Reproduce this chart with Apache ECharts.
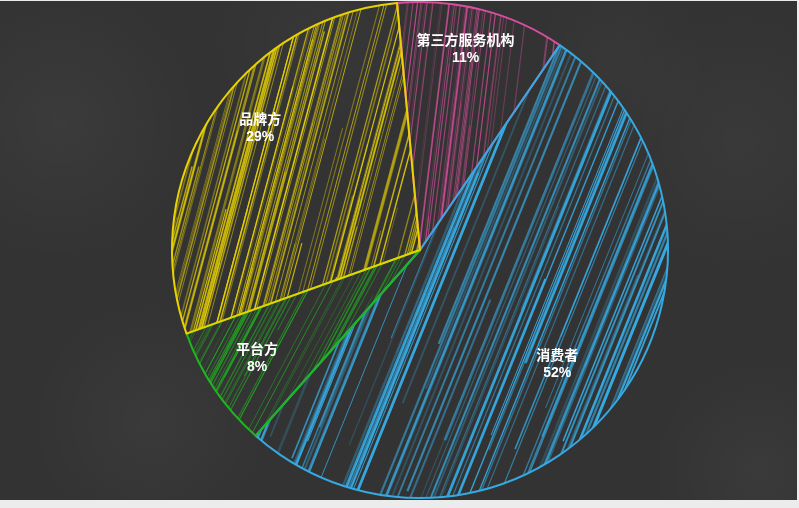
<!DOCTYPE html>
<html>
<head>
<meta charset="utf-8">
<script src="https://cdn.jsdelivr.net/npm/echarts@6/dist/echarts.min.js"></script>
<style>
html,body{margin:0;padding:0;background:#ececec;width:799px;height:508px;overflow:hidden;}
#chart{position:absolute;left:0;top:1px;width:797px;height:499px;}
</style>
</head>
<body>
<div id="chart"></div>
<script>
// ---- data ----
const categories = ['第三方服务机构', '消费者', '平台方', '品牌方'];
const values = [11, 52, 8, 29];
const colors = ['#d94fa0', '#36a9e1', '#1fb51f', '#e8d200'];

// ---- layout constants ----
const CX = 420, CY = 249, R = 248, START = 95.3;
const labelRatio = [0.83, 0.72, 0.79, 0.81];
const labelAngleShift = [-1.7, 1.9, 0.4, 4.8];

// ---- chalk hatch textures (deterministic) ----
function makeRand(seed){ let s = seed; return function(){ s = (s * 1103515245 + 12345) % 2147483648; return s / 2147483648; }; }
function hatch(color, seed, opts){
  const W = 512, H = 512;
  const c = document.createElement('canvas'); c.width = W; c.height = H;
  const g = c.getContext('2d');
  const rnd = makeRand(seed);
  const dx = H / Math.tan(opts.angle * Math.PI / 180);
  g.strokeStyle = color; g.lineCap = 'butt';
  for (let i = 0; i < opts.count; i++) {
    const x0 = rnd() * W;
    const a = opts.aMin + rnd() * (opts.aMax - opts.aMin);
    const w = opts.wMin + rnd() * (opts.wMax - opts.wMin);
    const y1 = rnd() < 0.35 ? rnd() * H * 0.6 : 0;
    const y2 = rnd() < 0.35 ? H - rnd() * H * 0.4 : H;
    g.globalAlpha = a; g.lineWidth = w;
    for (let k = -2; k <= 1; k++) {
      const bx = x0 + k * W;
      g.beginPath();
      g.moveTo(bx + (H - y2) / H * dx, y2);
      g.lineTo(bx + (H - y1) / H * dx, y1);
      g.stroke();
    }
  }
  return c;
}
const patternOpts = [
  {angle: 83, count: 210, aMin: 0.2, aMax: 0.8, wMin: 0.5, wMax: 1.1},
  {angle: 68, count: 130, aMin: 0.2, aMax: 1.0, wMin: 0.8, wMax: 2.8},
  {angle: 62, count: 160, aMin: 0.3, aMax: 0.9, wMin: 0.5, wMax: 1.3},
  {angle: 75, count: 230, aMin: 0.35, aMax: 0.95, wMin: 0.6, wMax: 1.6}
];

const pieData = categories.map((name, i) => ({
  name: name,
  value: values[i],
  itemStyle: {
    color: {image: hatch(colors[i], 17 + i * 31, patternOpts[i]), repeat: 'repeat'},
    borderColor: colors[i],
    borderWidth: 2
  }
}));
const labelData = categories.map((name, i) => ({name: name, value: values[i]}));

const total = values.reduce((a, b) => a + b, 0);
function labelPos(idx){
  let before = 0;
  for (let i = 0; i < idx; i++) before += values[i];
  const midDeg = -(START - 90) + (before + values[idx] / 2) / total * 360 + labelAngleShift[idx];
  const t = midDeg * Math.PI / 180;
  const r = R * labelRatio[idx];
  return {x: CX + r * Math.sin(t), y: CY - r * Math.cos(t)};
}

const chart = echarts.init(document.getElementById('chart'), null, {renderer: 'canvas'});
const blob = (x, y, r, a) => ({
  type: 'circle', silent: true, z: -10,
  shape: {cx: x, cy: y, r: r},
  style: {fill: {type: 'radial', x: 0.5, y: 0.5, r: 0.5,
    colorStops: [{offset: 0, color: 'rgba(255,255,255,' + a + ')'}, {offset: 1, color: 'rgba(255,255,255,0)'}]}}
});
chart.setOption({
  backgroundColor: '#333333',
  animation: false,
  graphic: [
    blob(60, 120, 140, 0.04), blob(150, 420, 120, 0.035), blob(740, 140, 130, 0.03),
    blob(760, 470, 110, 0.035), blob(320, 40, 110, 0.025), blob(620, 60, 90, 0.025)
  ],
  series: [
    {
      type: 'pie',
      center: [CX, CY],
      radius: R,
      startAngle: START,
      clockwise: true,
      silent: true,
      label: {show: false},
      labelLine: {show: false},
      data: pieData
    },
    {
      type: 'pie',
      center: [CX, CY],
      radius: R,
      startAngle: START,
      clockwise: true,
      silent: true,
      itemStyle: {color: 'rgba(0,0,0,0)', borderWidth: 0},
      label: {
        show: true,
        position: 'inside',
        color: '#ffffff',
        fontSize: 14,
        fontWeight: 'bold',
        lineHeight: 17,
        fontFamily: '"Liberation Sans", "Noto Sans CJK SC", sans-serif',
        formatter: function(p){ return p.name + '\n' + p.value + '%'; }
      },
      labelLayout: function(p){ return labelPos(p.dataIndex); },
      labelLine: {show: false},
      data: labelData
    }
  ]
});
</script>
</body>
</html>
